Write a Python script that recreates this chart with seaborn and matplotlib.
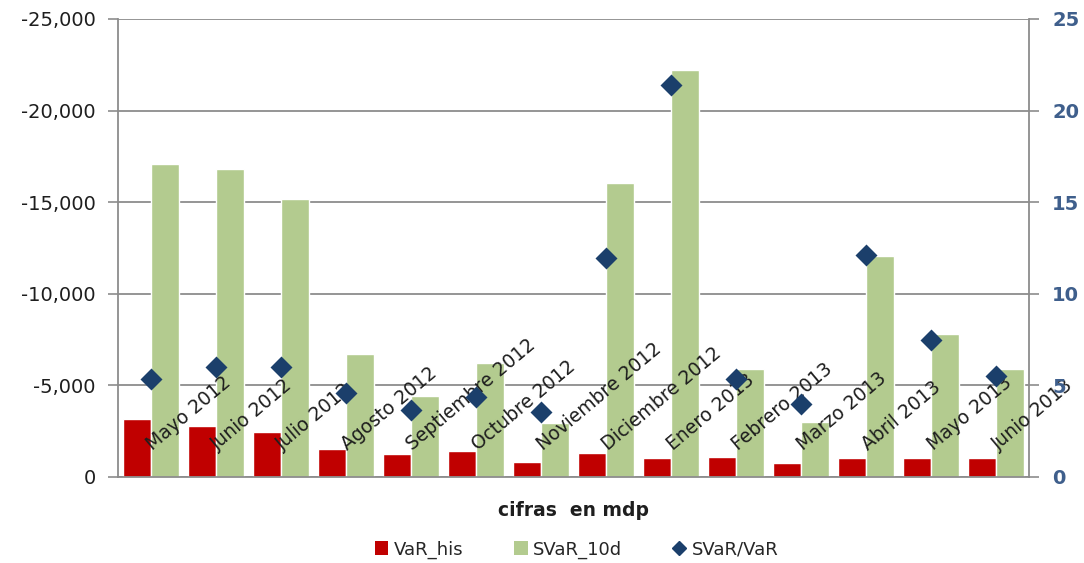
import numpy as np
import pandas as pd
import matplotlib
matplotlib.use("Agg")
import matplotlib.pyplot as plt
from matplotlib.ticker import FuncFormatter
from matplotlib.lines import Line2D
from matplotlib.patches import Patch
import matplotlib.transforms as mtransforms
import seaborn as sns

# Monthly risk figures (cifras en mdp)
meses = ["Mayo 2012", "Junio 2012", "Julio 2012", "Agosto 2012", "Septiembre 2012",
         "Octubre 2012", "Noviembre 2012", "Diciembre 2012", "Enero 2013", "Febrero 2013",
         "Marzo 2013", "Abril 2013", "Mayo 2013", "Junio 2013"]
var_his = [-3150, -2790, -2480, -1510, -1240, -1420, -840, -1330, -1020, -1110,
           -750, -1020, -1020, -1020]
svar_10d = [-17090, -16800, -15160, -6720, -4420, -6240, -2970, -16040, -22220, -5880,
            -3020, -12070, -7790, -5880]
ratio = [5.35, 6.0, 6.0, 4.57, 3.66, 4.37, 3.55, 11.95, 21.4, 5.35,
         3.98, 12.1, 7.48, 5.5]
left_ticks = [0, -5000, -10000, -15000, -20000, -25000]
right_ticks = [0, 5, 10, 15, 20, 25]

RED = "#C00000"
GREEN = "#B3CB8F"
NAVY = "#1B3F6B"
GRID = "#8C8C8C"
TEXT = "#1e1e1e"

sns.set_style("white")
plt.rcParams["font.family"] = ["DejaVu Sans"]

df = pd.DataFrame({
    "mes": meses * 2,
    "serie": ["VaR_his"] * len(meses) + ["SVaR_10d"] * len(meses),
    "valor": var_his + svar_10d,
})
df_ratio = pd.DataFrame({"mes": meses, "ratio": ratio})

fig = plt.figure(figsize=(10.84, 5.63), dpi=100)
ax = fig.add_axes([0.1089, 0.1528, 0.8400, 0.8135])

sns.barplot(data=df, x="mes", y="valor", hue="serie", order=meses,
            hue_order=["VaR_his", "SVaR_10d"], palette=[RED, GREEN],
            saturation=1, width=0.86, gap=0, legend=False, ax=ax, zorder=2)

ax.set_xlim(-0.5, len(meses) - 0.5)
ax.set_ylim(0, -25000)
ax.set_yticks(left_ticks)
ax.yaxis.set_major_formatter(FuncFormatter(lambda v, p: f"{v:,.0f}"))
ax.set_axisbelow(True)
ax.grid(axis="y", color=GRID, linewidth=1.3)
ax.set_xticks(np.arange(len(meses) + 1) - 0.5)
ax.set_xticklabels([])
ax.tick_params(axis="x", length=5, color=GRID, width=1.2, direction="out")
ax.tick_params(axis="y", length=7, color=GRID, width=1.2, labelsize=14,
               labelcolor=TEXT, pad=9)
for side in ["left", "right", "bottom"]:
    ax.spines[side].set_color(GRID)
    ax.spines[side].set_linewidth(1.3)
ax.spines["top"].set_visible(False)
ax.set_ylabel("")
ax.set_xlabel("cifras  en mdp", fontsize=13.5, fontweight="bold", color=TEXT,
              labelpad=9)

# Month labels rotated inside the plot area
trans = mtransforms.blended_transform_factory(ax.transData, ax.transAxes)
for i, m in enumerate(meses):
    ax.text(i + 0.03, 0.056, m, transform=trans, rotation=40,
            rotation_mode="anchor", ha="left", va="baseline", fontsize=13.5,
            color=TEXT, zorder=6, clip_on=False)

ax2 = ax.twinx()
sns.pointplot(data=df_ratio, x="mes", y="ratio", order=meses, color=NAVY,
              markers="D", linestyle="none", markersize=9, ax=ax2, zorder=7)
ax2.set_xlim(-0.5, len(meses) - 0.5)
ax2.set_ylim(0, 25)
ax2.set_yticks(right_ticks)
ax2.set_ylabel("")
ax2.tick_params(axis="y", length=7, color=GRID, width=1.2, labelsize=14,
                labelcolor="#3F5F8C", pad=10)
for lbl in ax2.get_yticklabels():
    lbl.set_fontweight("bold")
for side in ["left", "right", "bottom", "top"]:
    ax2.spines[side].set_visible(False)

handles = [
    Patch(facecolor=RED, edgecolor="none", label="VaR_his"),
    Patch(facecolor=GREEN, edgecolor="none", label="SVaR_10d"),
    Line2D([0], [0], marker="D", color="none", markerfacecolor=NAVY,
           markeredgecolor=NAVY, markersize=7, label="SVaR/VaR"),
]
fig.legend(handles=handles, loc="center", bbox_to_anchor=(0.532, 0.024), ncol=3,
           frameon=False, fontsize=13, handlelength=0.75, handleheight=0.75,
           handletextpad=0.3, columnspacing=2.8)

fig.savefig("out.png", dpi=100)
